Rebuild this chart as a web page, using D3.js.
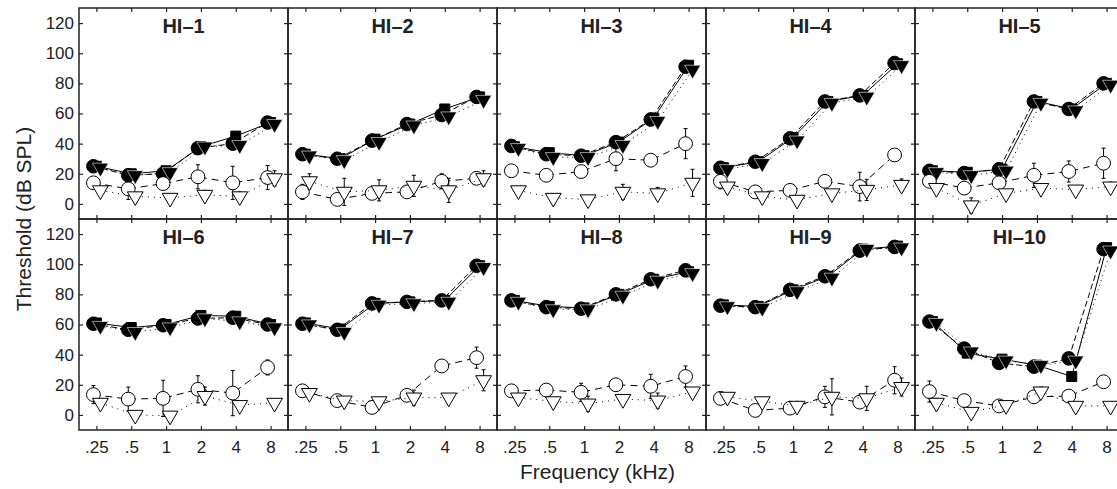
<!DOCTYPE html>
<html>
<head>
<meta charset="utf-8">
<script src="https://cdn.jsdelivr.net/npm/d3@7"></script>
<style>
body { margin: 0; background: #fff; }
text { font-family: "Liberation Sans", Arial, Helvetica, sans-serif; }
</style>
</head>
<body>
<svg id="chart" width="1117" height="489"></svg>
<script>
// frequencies (kHz) and listeners
var freqs = [".25", ".5", "1", "2", "4", "8"];
var listeners = ["HI\u20131", "HI\u20132", "HI\u20133", "HI\u20134", "HI\u20135",
                 "HI\u20136", "HI\u20137", "HI\u20138", "HI\u20139", "HI\u201310"];
var yTicks = [0, 20, 40, 60, 80, 100, 120];

// thresholds in dB SPL, one row per listener
var filledCircle = [
	[25, 19, 20, 37, 40, 54],
	[33, 30, 42, 53, 59, 71],
	[38.5, 33, 32, 41, 56, 91],
	[24, 28, 43.5, 68, 72, 93.5],
	[22, 20.5, 23, 68, 63, 80],
	[60.5, 56.5, 59.5, 64, 64.5, 60],
	[60.5, 56.5, 74, 75, 76, 99],
	[76, 71.5, 70.5, 80, 90, 96],
	[72.5, 71.5, 83, 92, 109, 111.5],
	[62, 44, 34.5, 32, 37.5, 110]
];
var filledSquare = [
	[25, 20, 22, 38, 45, 54],
	[33, 30, 43, 53, 63, 71],
	[38, 34, 32, 41, 57, 92],
	[24, 28, 44, 68, 72, 93],
	[22, 21, 23, 68, 63, 80],
	[61, 58, 60, 66, 65.5, 60],
	[61, 57, 74, 75, 76, 99],
	[76, 72, 71, 80, 90, 95],
	[73, 72, 83, 92, 110, 112],
	[62, 41, 37, 33, 25.5, 111]
];
var filledTriangle = [
	[24, 19, 21, 38, 39, 53],
	[32, 29, 41, 52, 58, 69],
	[37, 31, 31, 39, 55, 89],
	[23, 27, 42, 67, 71, 92],
	[21, 19, 22, 67, 62, 79],
	[59, 55, 58, 64, 62, 58],
	[60, 55, 73, 74, 75, 98],
	[75, 70, 70, 79, 89, 94],
	[72, 71, 82, 91, 110, 111],
	[61, 42, 36, 33, 36, 109]
];
var openCircle = [
	[14, 10, 13.5, 18, 14, 17.5],
	[8, 3, 7, 8, 15, 17],
	[22, 19, 21.5, 30, 29, 40],
	[15, 8, 9, 15, 11.5, 32.5],
	[15, 10.5, 14, 19, 21.5, 27],
	[13.5, 10.5, 11, 17, 14.5, 31.5],
	[16, 9.5, 5, 13, 32.5, 38],
	[16, 16.5, 15, 20, 19, 25.5],
	[11, 3, 4.5, 12, 8.5, 23],
	[15.5, 9.5, 6, 12, 12.5, 22]
];
var openTriangle = [
	[9, 5, 4, 6, 5, 17],
	[15, 8, 9, 12, 9, 17],
	[9, 4, 3, 8, 7, 14],
	[11.5, 5, 2.7, 7, 9.3, 12.6],
	[10.5, -1, 7, 10.5, 9.5, 11.5],
	[8, 0, -0.5, 12.5, 6.5, 8],
	[14.5, 9.5, 9, 11.5, 11.5, 23],
	[11.5, 9, 7.5, 10.5, 9.5, 15.5],
	[12, 9, 6, 12, 11, 18.5],
	[8, 2, 6.5, 15.5, 6, 6]
];
// error bar half-lengths (dB)
var openCircleErr = [
	[0, 7, 0, 8, 11, 8],
	[5, 0, 0, 0, 5, 0],
	[0, 0, 0, 8, 4, 10],
	[5, 0, 0, 0, 9.5, 0],
	[0, 0, 0, 8, 7, 10],
	[6, 8, 12, 9, 15, 5],
	[0, 0, 0, 0, 0, 7],
	[0, 0, 6, 4, 8, 7],
	[0, 0, 0, 7, 0, 9],
	[7, 3, 0, 0, 3, 0]
];
var openTriangleErr = [
	[0, 0, 0, 3, 3, 5],
	[5, 9, 7, 7, 8, 5],
	[2, 2, 0, 5, 4, 9],
	[0, 0, 0, 0, 7, 4],
	[0, 5, 0, 0, 0, 3],
	[0, 0, 0, 6, 0, 2],
	[2, 2, 2, 5, 2, 7],
	[2, 0, 5, 2, 5, 2],
	[1, 2, 3, 12, 8, 6],
	[3, 0, 0, 3, 0, 0]
];

var chartLeft = 79, chartTop = 8, pw = 209, ph = 211;

var svg = d3.select("#chart");

var x = d3.scalePoint().domain(freqs).range([0, pw]).padding(0.5);
var y = d3.scaleLinear().domain([-10, 130]).range([ph, 0]);

var series = [
	{ data: filledSquare, sym: d3.symbolSquare, size: 100, dx: 0, fill: "#000", dash: null, rot: 0 },
	{ data: filledCircle, sym: d3.symbolCircle, size: 145, dx: -3, fill: "#000", dash: "6,3", rot: 0 },
	{ data: filledTriangle, sym: d3.symbolTriangle, size: 110, dx: 4, fill: "#000", dash: "1,4", rot: 180 },
	{ data: openCircle, err: openCircleErr, sym: d3.symbolCircle, size: 150, dx: -3, fill: "#fff", dash: "7,5", rot: 0 },
	{ data: openTriangle, err: openTriangleErr, sym: d3.symbolTriangle, size: 108, dx: 4, fill: "#fff", dash: "1,5", rot: 180 }
];

listeners.forEach(function(name, i){
	var col = i % 5, row = Math.floor(i / 5);
	var g = svg.append("g")
		.attr("transform", "translate(" + (chartLeft + col * pw) + "," + (chartTop + row * ph) + ")");

	// inward ticks on all four sides
	var ax = [
		{ a: d3.axisLeft(y).tickValues(yTicks).tickPadding(5).tickFormat(col === 0 ? d3.format("d") : ""), t: null },
		{ a: d3.axisRight(y).tickValues(yTicks).tickFormat(""), t: "translate(" + pw + ",0)" },
		{ a: d3.axisTop(x).tickFormat(""), t: null },
		{ a: d3.axisBottom(x).tickPadding(11).tickFormat(row === 1 ? null : ""), t: "translate(0," + ph + ")" }
	];
	ax.forEach(function(d){
		var ag = g.append("g").attr("transform", d.t)
			.call(d.a.tickSizeInner(-4).tickSizeOuter(0));
		ag.select(".domain").remove();
		ag.selectAll("line").attr("stroke", "#222").attr("stroke-width", 1.2);
		ag.selectAll("text").attr("font-size", 17).attr("fill", "#222")
			.style("font-family", "'Liberation Sans', Arial, sans-serif");
	});

	series.forEach(function(s){
		var vals = s.data[i];
		var pts = vals.map(function(v, j){ return [x(freqs[j]) + s.dx, y(v)]; });

		g.append("path")
			.attr("d", d3.line()(pts))
			.attr("fill", "none")
			.attr("stroke", "#000")
			.attr("stroke-width", 1)
			.attr("stroke-dasharray", s.dash);

		if(s.err){
			var eg = g.append("g").attr("stroke", "#000").attr("stroke-width", 1);
			vals.forEach(function(v, j){
				var e = s.err[i][j];
				if(!e) return;
				var cx = x(freqs[j]) + s.dx;
				eg.append("line").attr("x1", cx).attr("x2", cx).attr("y1", y(v - e)).attr("y2", y(v + e));
				eg.append("line").attr("x1", cx - 2).attr("x2", cx + 2).attr("y1", y(v - e)).attr("y2", y(v - e));
				eg.append("line").attr("x1", cx - 2).attr("x2", cx + 2).attr("y1", y(v + e)).attr("y2", y(v + e));
			});
		}

		g.append("g").selectAll("path")
			.data(pts)
			.enter()
			.append("path")
			.attr("d", d3.symbol().type(s.sym).size(s.size))
			.attr("transform", function(p){ return "translate(" + p[0] + "," + p[1] + ") rotate(" + s.rot + ")"; })
			.attr("fill", s.fill)
			.attr("stroke", s.fill === "#000" && s.rot ? "#fff" : "#000")
			.attr("stroke-width", s.fill === "#000" && s.rot ? 0.6 : 1);
	});

	g.append("text")
		.attr("x", pw / 2)
		.attr("y", 25)
		.attr("text-anchor", "middle")
		.attr("font-size", 20)
		.attr("font-weight", "bold")
		.attr("fill", "#222")
		.text(name);

	g.append("rect")
		.attr("width", pw)
		.attr("height", ph)
		.attr("fill", "none")
		.attr("stroke", "#222")
		.attr("stroke-width", 1.5);
});

svg.append("text")
	.attr("transform", "translate(31," + (chartTop + ph) + ") rotate(-90)")
	.attr("text-anchor", "middle")
	.attr("font-size", 21)
	.attr("fill", "#222")
	.text("Threshold (dB SPL)");

svg.append("text")
	.attr("x", chartLeft + 2.5 * pw - 4)
	.attr("y", 479)
	.attr("text-anchor", "middle")
	.attr("font-size", 21)
	.attr("fill", "#222")
	.text("Frequency (kHz)");
</script>
</body>
</html>
